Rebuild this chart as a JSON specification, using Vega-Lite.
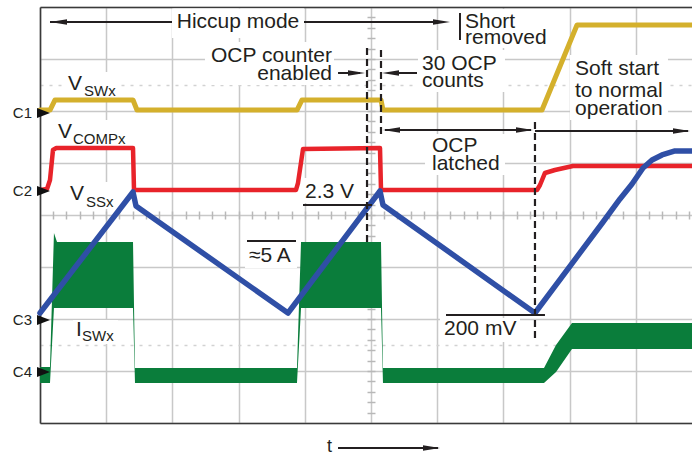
{
  "$schema": "https://vega.github.io/schema/vega-lite/v6.json",
  "width": 652,
  "height": 416,
  "autosize": {"type": "none"},
  "padding": {"left": 40, "top": 7, "right": 0, "bottom": 32},
  "background": "white",
  "config": {"view": {"stroke": null}, "text": {"font": "Liberation Sans"}},
  "resolve": {"axis": {"x": "independent", "y": "independent"}},
  "datasets": {
    "yellow": [
      {"x": 0, "y": 6.019}, {"x": 0.151, "y": 6.019}, {"x": 0.227, "y": 6.212}, {"x": 1.405, "y": 6.212},
      {"x": 1.465, "y": 6.019}, {"x": 3.882, "y": 6.019}, {"x": 3.958, "y": 6.212}, {"x": 5.151, "y": 6.212},
      {"x": 5.181, "y": 6.019}, {"x": 7.583, "y": 6.019}, {"x": 8.112, "y": 7.654}, {"x": 9.849, "y": 7.654}
    ],
    "red": [
      {"x": 0, "y": 4.481}, {"x": 0.106, "y": 4.5}, {"x": 0.151, "y": 4.673}, {"x": 0.196, "y": 5.25},
      {"x": 0.242, "y": 5.288}, {"x": 1.405, "y": 5.288}, {"x": 1.42, "y": 4.481}, {"x": 3.867, "y": 4.481},
      {"x": 3.897, "y": 4.615}, {"x": 3.973, "y": 5.269}, {"x": 5.136, "y": 5.288}, {"x": 5.151, "y": 4.481},
      {"x": 7.508, "y": 4.481}, {"x": 7.553, "y": 4.577}, {"x": 7.628, "y": 4.808}, {"x": 7.779, "y": 4.865},
      {"x": 8.051, "y": 4.942}, {"x": 9.849, "y": 4.942}
    ],
    "blue": [
      {"x": 0, "y": 2.115}, {"x": 1.405, "y": 4.442}, {"x": 1.45, "y": 4.173}, {"x": 3.746, "y": 2.115},
      {"x": 5.136, "y": 4.462}, {"x": 5.181, "y": 4.192}, {"x": 7.477, "y": 2.115}, {"x": 8.505, "y": 3.865},
      {"x": 8.761, "y": 4.308}, {"x": 8.943, "y": 4.596}, {"x": 9.109, "y": 4.904}, {"x": 9.245, "y": 5.058},
      {"x": 9.396, "y": 5.154}, {"x": 9.592, "y": 5.231}, {"x": 9.849, "y": 5.231}
    ],
    "green": [
      {"x": 0, "top": 1.077, "bot": 0.769}, {"x": 0.151, "top": 1.077, "bot": 0.769},
      {"x": 0.211, "top": 3.654, "bot": 2.212}, {"x": 0.257, "top": 3.481, "bot": 2.212},
      {"x": 1.405, "top": 3.481, "bot": 2.212}, {"x": 1.435, "top": 1.058, "bot": 0.769},
      {"x": 3.882, "top": 1.058, "bot": 0.769}, {"x": 3.943, "top": 3.481, "bot": 2.212},
      {"x": 5.151, "top": 3.481, "bot": 2.212}, {"x": 5.181, "top": 1.058, "bot": 0.769},
      {"x": 7.613, "top": 1.058, "bot": 0.769}, {"x": 7.795, "top": 1.5, "bot": 0.981},
      {"x": 8.036, "top": 1.923, "bot": 1.423}, {"x": 9.849, "top": 1.923, "bot": 1.423}
    ],
    "boxes": [
      {"x1": 1.994, "x2": 3.988, "y1": 7.971, "y2": 7.404},
      {"x1": 6.269, "x2": 7.704, "y1": 7.962, "y2": 7.212},
      {"x1": 2.492, "x2": 4.441, "y1": 7.327, "y2": 6.5},
      {"x1": 5.71, "x2": 7.024, "y1": 7.173, "y2": 6.365},
      {"x1": 8.006, "x2": 9.486, "y1": 7.077, "y2": 5.827},
      {"x1": 5.816, "x2": 7.024, "y1": 5.558, "y2": 4.769},
      {"x1": 3.927, "x2": 4.804, "y1": 4.712, "y2": 4.231},
      {"x1": 3.097, "x2": 3.882, "y1": 3.462, "y2": 2.981},
      {"x1": 6.042, "x2": 7.251, "y1": 2.019, "y2": 1.558},
      {"x1": 0.378, "x2": 1.178, "y1": 6.75, "y2": 6.25},
      {"x1": 0.227, "x2": 1.36, "y1": 5.827, "y2": 5.327},
      {"x1": 0.408, "x2": 1.208, "y1": 4.635, "y2": 4.115},
      {"x1": 0.498, "x2": 1.178, "y1": 1.981, "y2": 1.519}
    ],
    "rules": [
      {"x1": 0.151, "x2": 1.994, "y1": 7.712, "y2": 7.712},
      {"x1": 3.988, "x2": 6.088, "y1": 7.712, "y2": 7.712},
      {"x1": 6.344, "x2": 6.344, "y1": 7.885, "y2": 7.365},
      {"x1": 4.502, "x2": 4.834, "y1": 6.731, "y2": 6.731},
      {"x1": 5.257, "x2": 5.695, "y1": 6.731, "y2": 6.731},
      {"x1": 5.211, "x2": 7.417, "y1": 5.635, "y2": 5.635},
      {"x1": 7.477, "x2": 9.789, "y1": 5.615, "y2": 5.615},
      {"x1": 3.973, "x2": 5.015, "y1": 4.192, "y2": 4.192},
      {"x1": 3.127, "x2": 3.867, "y1": 3.5, "y2": 3.5},
      {"x1": 6.133, "x2": 7.628, "y1": 2.077, "y2": 2.077},
      {"x1": 4.502, "x2": 6.012, "y1": -0.481, "y2": -0.481}
    ],
    "dashed": [
      {"x1": 4.94, "x2": 4.94, "y1": 7.212, "y2": 3.481},
      {"x1": 5.151, "x2": 5.151, "y1": 7.173, "y2": 5.5},
      {"x1": 7.477, "x2": 7.477, "y1": 5.788, "y2": 1.596}
    ],
    "headsR": [
      {"x": 6.065, "y": 7.712}, {"x": 4.781, "y": 6.731}, {"x": 7.319, "y": 5.635},
      {"x": 9.69, "y": 5.615}, {"x": 5.914, "y": -0.481}
    ],
    "headsL": [
      {"x": 0.279, "y": 7.712}, {"x": 5.295, "y": 6.731}, {"x": 5.31, "y": 5.635}
    ],
    "textLeft": [
      {"t": "Short", "x": 6.42, "y": 7.596}, {"t": "removed", "x": 6.42, "y": 7.288},
      {"t": "30 OCP", "x": 5.77, "y": 6.788}, {"t": "counts", "x": 5.77, "y": 6.462},
      {"t": "Soft start", "x": 8.082, "y": 6.692}, {"t": "to normal", "x": 8.082, "y": 6.269},
      {"t": "operation", "x": 8.082, "y": 5.923},
      {"t": "OCP", "x": 5.921, "y": 5.212}, {"t": "latched", "x": 5.921, "y": 4.865},
      {"t": "2.3 V", "x": 4.003, "y": 4.327}, {"t": "≈5 A", "x": 3.157, "y": 3.096},
      {"t": "200 mV", "x": 6.103, "y": 1.692},
      {"t": "V", "x": 0.423, "y": 6.404}, {"t": "V", "x": 0.272, "y": 5.481},
      {"t": "V", "x": 0.453, "y": 4.288}, {"t": "I", "x": 0.544, "y": 1.673}
    ],
    "textRight": [
      {"t": "OCP counter", "x": 4.411, "y": 6.942}, {"t": "enabled", "x": 4.411, "y": 6.596}
    ],
    "textCenter": [
      {"t": "Hiccup mode", "x": 2.991, "y": 7.596}
    ],
    "subs": [
      {"t": "SWx", "x": 0.665, "y": 6.288}, {"t": "COMPx", "x": 0.498, "y": 5.365},
      {"t": "SSx", "x": 0.695, "y": 4.154}, {"t": "SWx", "x": 0.634, "y": 1.577}
    ],
    "channels": [
      {"t": "C1", "x": -0.121, "tx": 0.053, "y": 5.962},
      {"t": "C2", "x": -0.121, "tx": 0.053, "y": 4.462},
      {"t": "C3", "x": -0.121, "tx": 0.053, "y": 1.981},
      {"t": "C4", "x": -0.121, "tx": 0.053, "y": 0.981}
    ],
    "tlabel": [
      {"t": "t", "x": 4.335, "y": -0.567}
    ]
  },
  "layer": [
    {
      "data": {"name": "boxes"},
      "mark": {"type": "rect", "fill": "white", "stroke": null},
      "encoding": {
        "x": {"field": "x1", "type": "quantitative", "scale": {"domain": [0, 9.849], "nice": false, "zero": false},
          "axis": {"orient": "bottom", "values": [0, 1, 2, 3, 4, 5, 6, 7, 8, 9], "grid": true, "gridColor": "#c8c8c8", "gridWidth": 1.5,
            "domain": true, "domainColor": "#3a3a3a", "domainWidth": 1.6, "ticks": false, "labels": false, "title": null}},
        "x2": {"field": "x2"},
        "y": {"field": "y1", "type": "quantitative", "scale": {"domain": [0, 8], "nice": false, "zero": false},
          "axis": {"orient": "left", "values": [0, 1, 2, 3, 4, 5, 6, 7, 8], "grid": true, "gridColor": "#c8c8c8", "gridWidth": 1.5,
            "domain": true, "domainColor": "#3a3a3a", "domainWidth": 1.6, "ticks": false, "labels": false, "title": null}},
        "y2": {"field": "y2"}
      }
    },
    {
      "data": {"name": "green"},
      "mark": {"type": "area", "color": "#0a7d3b", "interpolate": "linear"},
      "encoding": {
        "x": {"field": "x", "type": "quantitative", "scale": {"domain": [0, 9.849], "nice": false, "zero": false},
          "axis": {"orient": "top", "domain": true, "domainColor": "#3a3a3a", "domainWidth": 1.6, "grid": false, "ticks": false, "labels": false, "title": null}},
        "y": {"field": "top", "type": "quantitative", "scale": {"domain": [0, 8], "nice": false, "zero": false},
          "axis": {"orient": "left", "values": [1.5, 6.5], "grid": true, "gridColor": "#d2d2d2", "gridDash": [3, 6], "gridWidth": 1.5,
            "domain": false, "ticks": false, "labels": false, "title": null}},
        "y2": {"field": "bot"}
      }
    },
    {
      "data": {"name": "red"},
      "mark": {"type": "line", "color": "#e8232a", "strokeWidth": 4.5, "strokeJoin": "round", "strokeCap": "round"},
      "encoding": {
        "x": {"field": "x", "type": "quantitative", "scale": {"domain": [0, 9.849], "nice": false, "zero": false},
          "axis": {"orient": "bottom", "offset": -212, "values": [0.2,0.4,0.6,0.8,1,1.2,1.4,1.6,1.8,2,2.2,2.4,2.6,2.8,3,3.2,3.4,3.6,3.8,4,4.2,4.4,4.6,4.8,5,5.2,5.4,5.6,5.8,6,6.2,6.4,6.6,6.8,7,7.2,7.4,7.6,7.8,8,8.2,8.4,8.6,8.8,9,9.2,9.4,9.6,9.8],
            "ticks": true, "tickSize": 8, "tickColor": "#b8b8b8", "tickWidth": 1.5, "domain": false, "grid": false, "labels": false, "title": null}},
        "y": {"field": "y", "type": "quantitative", "scale": {"domain": [0, 8], "nice": false, "zero": false},
          "axis": {"orient": "left", "offset": -335, "values": [0.2,0.4,0.6,0.8,1,1.2,1.4,1.6,1.8,2,2.2,2.4,2.6,2.8,3,3.2,3.4,3.6,3.8,4,4.2,4.4,4.6,4.8,5,5.2,5.4,5.6,5.8,6,6.2,6.4,6.6,6.8,7,7.2,7.4,7.6,7.8],
            "ticks": true, "tickSize": 8, "tickColor": "#b8b8b8", "tickWidth": 1.5, "domain": false, "grid": false, "labels": false, "title": null}}
      }
    },
    {
      "data": {"name": "yellow"},
      "mark": {"type": "line", "color": "#d4b02c", "strokeWidth": 5, "strokeJoin": "round", "strokeCap": "round"},
      "encoding": {
        "x": {"field": "x", "type": "quantitative", "scale": {"domain": [0, 9.849], "nice": false, "zero": false}, "axis": null},
        "y": {"field": "y", "type": "quantitative", "scale": {"domain": [0, 8], "nice": false, "zero": false}, "axis": null}
      }
    },
    {
      "data": {"name": "blue"},
      "mark": {"type": "line", "color": "#2f4fa6", "strokeWidth": 5.5, "strokeJoin": "round", "strokeCap": "round"},
      "encoding": {
        "x": {"field": "x", "type": "quantitative", "scale": {"domain": [0, 9.849], "nice": false, "zero": false}, "axis": null},
        "y": {"field": "y", "type": "quantitative", "scale": {"domain": [0, 8], "nice": false, "zero": false}, "axis": null}
      }
    },
    {
      "data": {"name": "rules"},
      "mark": {"type": "rule", "color": "#231f20", "strokeWidth": 2},
      "encoding": {
        "x": {"field": "x1", "type": "quantitative", "scale": {"domain": [0, 9.849], "nice": false, "zero": false}, "axis": null},
        "x2": {"field": "x2"},
        "y": {"field": "y1", "type": "quantitative", "scale": {"domain": [0, 8], "nice": false, "zero": false}, "axis": null},
        "y2": {"field": "y2"}
      }
    },
    {
      "data": {"name": "dashed"},
      "mark": {"type": "rule", "color": "#231f20", "strokeWidth": 2.2, "strokeDash": [7, 4]},
      "encoding": {
        "x": {"field": "x1", "type": "quantitative", "scale": {"domain": [0, 9.849], "nice": false, "zero": false}, "axis": null},
        "x2": {"field": "x2"},
        "y": {"field": "y1", "type": "quantitative", "scale": {"domain": [0, 8], "nice": false, "zero": false}, "axis": null},
        "y2": {"field": "y2"}
      }
    },
    {
      "data": {"name": "headsR"},
      "mark": {"type": "point", "shape": "M-1,-0.33L1,0L-1,0.33Z", "size": 289, "filled": true, "color": "#231f20", "opacity": 1, "strokeWidth": 0},
      "encoding": {
        "x": {"field": "x", "type": "quantitative", "scale": {"domain": [0, 9.849], "nice": false, "zero": false}, "axis": null},
        "y": {"field": "y", "type": "quantitative", "scale": {"domain": [0, 8], "nice": false, "zero": false}, "axis": null}
      }
    },
    {
      "data": {"name": "headsL"},
      "mark": {"type": "point", "shape": "M1,-0.33L-1,0L1,0.33Z", "size": 289, "filled": true, "color": "#231f20", "opacity": 1, "strokeWidth": 0},
      "encoding": {
        "x": {"field": "x", "type": "quantitative", "scale": {"domain": [0, 9.849], "nice": false, "zero": false}, "axis": null},
        "y": {"field": "y", "type": "quantitative", "scale": {"domain": [0, 8], "nice": false, "zero": false}, "axis": null}
      }
    },
    {
      "data": {"name": "textLeft"},
      "mark": {"type": "text", "fontSize": 21, "align": "left", "baseline": "alphabetic", "color": "#231f20"},
      "encoding": {
        "x": {"field": "x", "type": "quantitative", "scale": {"domain": [0, 9.849], "nice": false, "zero": false}, "axis": null},
        "y": {"field": "y", "type": "quantitative", "scale": {"domain": [0, 8], "nice": false, "zero": false}, "axis": null},
        "text": {"field": "t"}
      }
    },
    {
      "data": {"name": "textRight"},
      "mark": {"type": "text", "fontSize": 21, "align": "right", "baseline": "alphabetic", "color": "#231f20"},
      "encoding": {
        "x": {"field": "x", "type": "quantitative", "scale": {"domain": [0, 9.849], "nice": false, "zero": false}, "axis": null},
        "y": {"field": "y", "type": "quantitative", "scale": {"domain": [0, 8], "nice": false, "zero": false}, "axis": null},
        "text": {"field": "t"}
      }
    },
    {
      "data": {"name": "textCenter"},
      "mark": {"type": "text", "fontSize": 21, "align": "center", "baseline": "alphabetic", "color": "#231f20"},
      "encoding": {
        "x": {"field": "x", "type": "quantitative", "scale": {"domain": [0, 9.849], "nice": false, "zero": false}, "axis": null},
        "y": {"field": "y", "type": "quantitative", "scale": {"domain": [0, 8], "nice": false, "zero": false}, "axis": null},
        "text": {"field": "t"}
      }
    },
    {
      "data": {"name": "subs"},
      "mark": {"type": "text", "fontSize": 15, "align": "left", "baseline": "alphabetic", "color": "#231f20"},
      "encoding": {
        "x": {"field": "x", "type": "quantitative", "scale": {"domain": [0, 9.849], "nice": false, "zero": false}, "axis": null},
        "y": {"field": "y", "type": "quantitative", "scale": {"domain": [0, 8], "nice": false, "zero": false}, "axis": null},
        "text": {"field": "t"}
      }
    },
    {
      "data": {"name": "channels"},
      "mark": {"type": "text", "fontSize": 15, "align": "right", "baseline": "middle", "color": "#231f20"},
      "encoding": {
        "x": {"field": "x", "type": "quantitative", "scale": {"domain": [0, 9.849], "nice": false, "zero": false}, "axis": null},
        "y": {"field": "y", "type": "quantitative", "scale": {"domain": [0, 8], "nice": false, "zero": false}, "axis": null},
        "text": {"field": "t"}
      }
    },
    {
      "data": {"name": "channels"},
      "mark": {"type": "point", "shape": "M-1,-0.77L1,0L-1,0.77Z", "size": 169, "filled": true, "color": "#111111", "opacity": 1, "strokeWidth": 0},
      "encoding": {
        "x": {"field": "tx", "type": "quantitative", "scale": {"domain": [0, 9.849], "nice": false, "zero": false}, "axis": null},
        "y": {"field": "y", "type": "quantitative", "scale": {"domain": [0, 8], "nice": false, "zero": false}, "axis": null}
      }
    },
    {
      "data": {"name": "tlabel"},
      "mark": {"type": "text", "fontSize": 18, "align": "left", "baseline": "alphabetic", "color": "#231f20"},
      "encoding": {
        "x": {"field": "x", "type": "quantitative", "scale": {"domain": [0, 9.849], "nice": false, "zero": false}, "axis": null},
        "y": {"field": "y", "type": "quantitative", "scale": {"domain": [0, 8], "nice": false, "zero": false}, "axis": null},
        "text": {"field": "t"}
      }
    }
  ]
}
